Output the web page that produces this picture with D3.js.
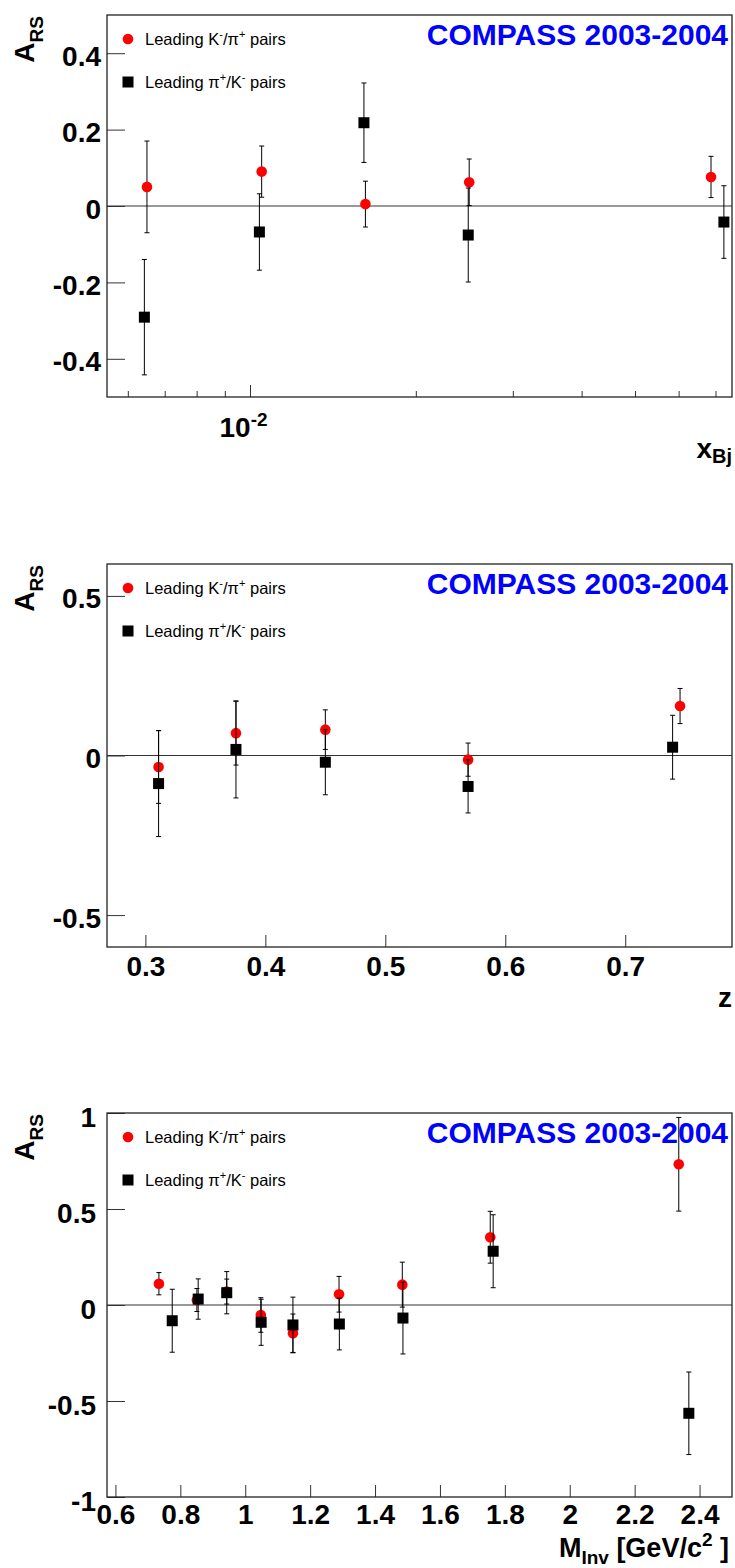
<!DOCTYPE html>
<html>
<head>
<meta charset="utf-8">
<script src="https://cdn.jsdelivr.net/npm/d3@7"></script>
<style>
  html, body { margin: 0; padding: 0; background: #fff; }
  svg { display: block; }
  text { font-family: "Liberation Sans", Arial, Helvetica, sans-serif; }
</style>
</head>
<body>
<svg id="chart" width="735" height="1568"></svg>
<script>
// ---------------- DATA ----------------
// Panel 1: A_RS vs x_Bj
const xbjRed = [0.0065, 0.0105, 0.0162, 0.0250, 0.0687];
const arsXbjRed = [0.050, 0.090, 0.005, 0.062, 0.076];
const errXbjRed = [0.120, 0.067, 0.060, 0.061, 0.054];
const xbjBlack = [0.00643, 0.0104, 0.0161, 0.0249, 0.0725];
const arsXbjBlack = [-0.291, -0.068, 0.218, -0.076, -0.042];
const errXbjBlack = [0.151, 0.100, 0.104, 0.123, 0.095];

// Panel 2: A_RS vs z
const zRed = [0.311, 0.3755, 0.450, 0.569, 0.7457];
const arsZRed = [-0.036, 0.070, 0.081, -0.013, 0.155];
const errZRed = [0.114, 0.100, 0.062, 0.052, 0.055];
const zBlack = [0.311, 0.3755, 0.450, 0.569, 0.7395];
const arsZBlack = [-0.088, 0.019, -0.021, -0.097, 0.026];
const errZBlack = [0.166, 0.152, 0.102, 0.083, 0.100];

// Panel 3: A_RS vs M_Inv
const mRed = [0.734, 0.851, 0.943, 1.048, 1.147, 1.289, 1.484, 1.755, 2.336];
const arsMRed = [0.111, 0.026, 0.070, -0.052, -0.147, 0.056, 0.106, 0.353, 0.733];
const errMRed = [0.058, 0.060, 0.065, 0.090, 0.100, 0.093, 0.117, 0.135, 0.244];
const mBlack = [0.775, 0.855, 0.943, 1.049, 1.147, 1.290, 1.486, 1.764, 2.367];
const arsMBlack = [-0.082, 0.031, 0.064, -0.090, -0.104, -0.099, -0.068, 0.280, -0.564];
const errMBlack = [0.164, 0.105, 0.110, 0.120, 0.145, 0.135, 0.187, 0.190, 0.215];

// Tick values
const yTicks1 = [0.4, 0.2, 0, -0.2, -0.4];
const xMinorTicks1 = [0.006, 0.007, 0.008, 0.009, 0.02, 0.03, 0.04, 0.05, 0.06, 0.07];
const xMajorTicks1 = [0.01];
const yTicks2 = [0.5, 0, -0.5];
const xTicks2 = [0.3, 0.4, 0.5, 0.6, 0.7];
const yTicks3 = [1, 0.5, 0, -0.5, -1];
const xTicks3 = [0.6, 0.8, 1, 1.2, 1.4, 1.6, 1.8, 2, 2.2, 2.4];

const legendRed = "Leading K";
const experimentLabel = "COMPASS 2003-2004";

// ---------------- DRAW ----------------
const svg = d3.select("#chart");
const L = 107, R = 732;
const FONT = '"Liberation Sans", Arial, Helvetica, sans-serif';

function panel(cfg) {
  const g = svg.append("g");
  const x = cfg.xScale.range([L, R]);
  const y = d3.scaleLinear().domain(cfg.yDomain).range([cfg.bottom, cfg.top]);

  // zero line
  g.append("line").attr("x1", L).attr("x2", R).attr("y1", y(0)).attr("y2", y(0))
    .attr("stroke", "#333").attr("stroke-width", 1);

  // y axis
  const ya = g.append("g").attr("transform", `translate(${L},0)`)
    .call(d3.axisLeft(y).tickValues(cfg.yTicks).tickSize(-18).tickPadding(cfg.yPad).tickFormat(d => String(d)));
  ya.select(".domain").remove();
  ya.selectAll(".tick line").attr("stroke", "#333").attr("stroke-width", 1);
  ya.selectAll(".tick text").attr("font-family", FONT).attr("font-size", 28).attr("font-weight", "bold")
    .attr("fill", "#000").attr("dy", cfg.yDy);

  // x axis
  if (cfg.xMinor) {
    const xm = g.append("g").attr("transform", `translate(0,${cfg.bottom})`)
      .call(d3.axisBottom(x).tickValues(cfg.xMinor).tickSize(-6).tickFormat(() => ""));
    xm.select(".domain").remove();
    xm.selectAll(".tick line").attr("stroke", "#333");
  }
  const xa = g.append("g").attr("transform", `translate(0,${cfg.bottom})`)
    .call(d3.axisBottom(x).tickValues(cfg.xTicks).tickSize(-12).tickPadding(cfg.xPad || 9)
      .tickFormat(cfg.xFormat || (d => String(d))));
  xa.select(".domain").remove();
  xa.selectAll(".tick line").attr("stroke", "#333").attr("stroke-width", 1);
  xa.selectAll(".tick text").attr("font-family", FONT).attr("font-size", 28).attr("font-weight", "bold")
    .attr("fill", "#000");
  if (cfg.xLabelHook) cfg.xLabelHook(xa);

  // frame
  g.append("rect").attr("x", L).attr("y", cfg.top).attr("width", R - L).attr("height", cfg.bottom - cfg.top)
    .attr("fill", "none").attr("stroke", "#222").attr("stroke-width", 1.3);

  // Y title A_RS
  const yt = g.append("text").attr("transform", `translate(34,${cfg.top + 1}) rotate(-90)`)
    .attr("text-anchor", "end").attr("font-weight", "bold").attr("fill", "#000");
  yt.append("tspan").attr("font-size", 28).text("A");
  yt.append("tspan").attr("font-size", 19).attr("dy", 9).text("RS");

  // X title
  cfg.xTitle(g);

  // COMPASS label
  g.append("text").attr("x", 728).attr("y", cfg.top + 30).attr("text-anchor", "end")
    .attr("font-size", 30).attr("font-weight", "bold").attr("fill", "#0000ff").text(experimentLabel);

  // legend
  const lg = g.append("g");
  lg.append("circle").attr("cx", 128).attr("cy", cfg.top + 24).attr("r", 5.3).attr("fill", "#ff0000");
  const t1 = lg.append("text").attr("x", 145).attr("y", cfg.top + 29.5).attr("font-size", 16.5).attr("fill", "#000");
  t1.append("tspan").text(legendRed);
  t1.append("tspan").attr("font-size", 11).attr("dy", -7).text("-");
  t1.append("tspan").attr("dy", 7).text("/\u03c0");
  t1.append("tspan").attr("font-size", 11).attr("dy", -7).text("+");
  t1.append("tspan").attr("dy", 7).text(" pairs");
  lg.append("rect").attr("x", 128 - 5.5).attr("y", cfg.top + 67 - 5.5).attr("width", 11).attr("height", 11).attr("fill", "#000");
  const t2 = lg.append("text").attr("x", 145).attr("y", cfg.top + 72.5).attr("font-size", 16.5).attr("fill", "#000");
  t2.append("tspan").text("Leading \u03c0");
  t2.append("tspan").attr("font-size", 11).attr("dy", -7).text("+");
  t2.append("tspan").attr("dy", 7).text("/K");
  t2.append("tspan").attr("font-size", 11).attr("dy", -7).text("-");
  t2.append("tspan").attr("dy", 7).text(" pairs");

  // data series
  function series(xs, ys, es, kind) {
    const data = xs.map((v, i) => ({ x: v, y: ys[i], e: es[i] }));
    const sg = g.append("g");
    const eb = sg.selectAll("g.eb").data(data).join("g").attr("class", "eb");
    eb.append("line").attr("x1", d => x(d.x)).attr("x2", d => x(d.x))
      .attr("y1", d => y(d.y + d.e)).attr("y2", d => y(d.y - d.e)).attr("stroke", "#000").attr("stroke-width", 1);
    eb.append("line").attr("x1", d => x(d.x) - 2.5).attr("x2", d => x(d.x) + 2.5)
      .attr("y1", d => y(d.y + d.e)).attr("y2", d => y(d.y + d.e)).attr("stroke", "#000").attr("stroke-width", 1);
    eb.append("line").attr("x1", d => x(d.x) - 2.5).attr("x2", d => x(d.x) + 2.5)
      .attr("y1", d => y(d.y - d.e)).attr("y2", d => y(d.y - d.e)).attr("stroke", "#000").attr("stroke-width", 1);
    if (kind === "circle") {
      sg.selectAll("circle").data(data).join("circle")
        .attr("cx", d => x(d.x)).attr("cy", d => y(d.y)).attr("r", 5.3).attr("fill", "#ff0000");
    } else {
      sg.selectAll("rect").data(data).join("rect")
        .attr("x", d => x(d.x) - 5.5).attr("y", d => y(d.y) - 5.5).attr("width", 11).attr("height", 11).attr("fill", "#000");
    }
  }
  series(cfg.red[0], cfg.red[1], cfg.red[2], "circle");
  series(cfg.black[0], cfg.black[1], cfg.black[2], "square");
}

// Panel 1
panel({
  top: 15, bottom: 397,
  xScale: d3.scaleLog().domain([0.0055, 0.075]),
  yDomain: [-0.5, 0.5],
  yTicks: yTicks1, yPad: 6, yDy: 12,
  xTicks: xMajorTicks1, xMinor: xMinorTicks1,
  xFormat: () => "",
  xLabelHook: (xa) => {
    xa.selectAll(".tick").each(function (d) {
      const t = d3.select(this).select("text").attr("dy", null).attr("y", 40).attr("x", -7).attr("text-anchor", "middle");
      t.append("tspan").text("10");
      t.append("tspan").attr("font-size", 19).attr("dy", -11).text(String(Math.round(Math.log10(d))));
    });
  },
  xTitle: (g) => {
    const t = g.append("text").attr("x", 732).attr("y", 458).attr("text-anchor", "end").attr("font-weight", "bold").attr("fill", "#000");
    t.append("tspan").attr("font-size", 28).text("x");
    t.append("tspan").attr("font-size", 20).attr("dy", 5).text("Bj");
  },
  red: [xbjRed, arsXbjRed, errXbjRed],
  black: [xbjBlack, arsXbjBlack, errXbjBlack]
});

// Panel 2
panel({
  top: 564, bottom: 947,
  xScale: d3.scaleLinear().domain([0.268, 0.789]),
  yDomain: [-0.6, 0.6],
  yTicks: yTicks2, yPad: 6, yDy: 12,
  xTicks: xTicks2,
  xTitle: (g) => {
    g.append("text").attr("x", 732).attr("y", 1007).attr("text-anchor", "end").attr("font-weight", "bold")
      .attr("font-size", 28).attr("fill", "#000").text("z");
  },
  red: [zRed, arsZRed, errZRed],
  black: [zBlack, arsZBlack, errZBlack]
});

// Panel 3
panel({
  top: 1113, bottom: 1497,
  xScale: d3.scaleLinear().domain([0.574, 2.5]),
  yDomain: [-1, 1],
  yTicks: yTicks3, yPad: 11, yDy: 13,
  xTicks: xTicks3, xPad: 7,
  xTitle: (g) => {
    const t = g.append("text").attr("x", 729).attr("y", 1557).attr("text-anchor", "end").attr("font-weight", "bold").attr("fill", "#000");
    t.append("tspan").attr("font-size", 27).text("M");
    t.append("tspan").attr("font-size", 19).attr("dy", 7).text("Inv");
    t.append("tspan").attr("font-size", 27).attr("dy", -7).text(" [GeV/c");
    t.append("tspan").attr("font-size", 19).attr("dy", -11).text("2");
    t.append("tspan").attr("font-size", 27).attr("dy", 11).text(" ]");
  },
  red: [mRed, arsMRed, errMRed],
  black: [mBlack, arsMBlack, errMBlack]
});
</script>
</body>
</html>
